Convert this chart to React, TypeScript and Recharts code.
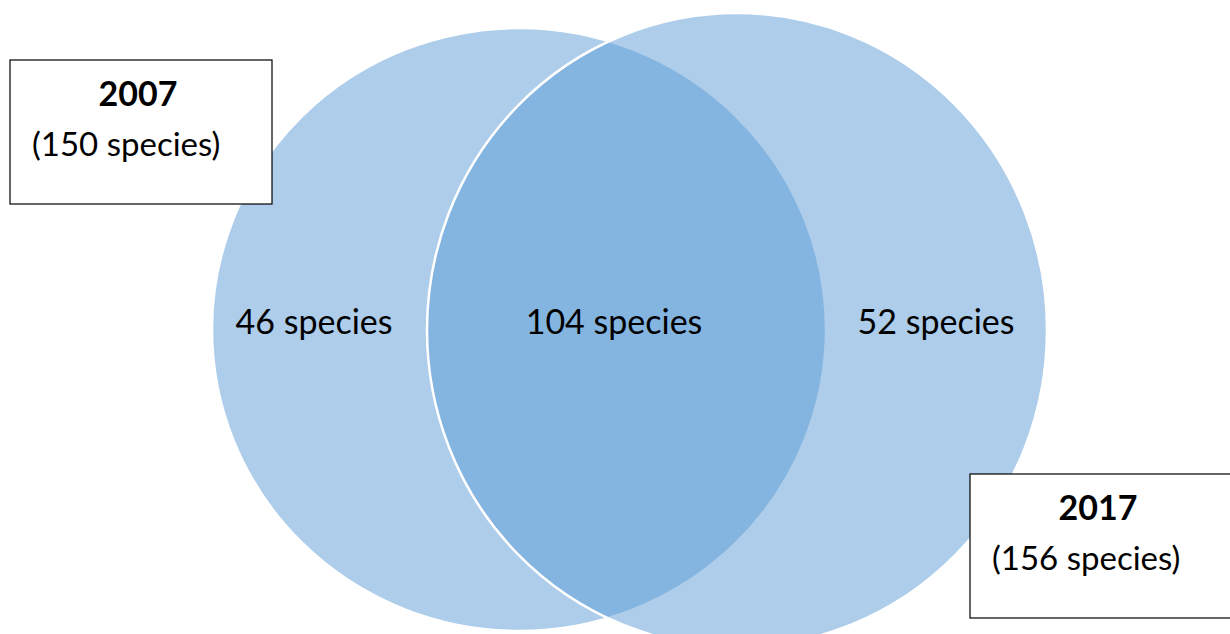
import React from 'react';
import { Scatter, ScatterChart, XAxis, YAxis } from 'recharts';

// values
const setNames = ['2007', '2017'];
const setTotals = [150, 156];
const regionCounts = [46, 104, 52];

// layout (chart units = pixels of the 1230x634 frame)
const W = 1230;
const H = 634;
const circleCx = [519, 737];
const circleCy = [329.5, 330];
const circleRx = [307, 310];
const circleRy = [301.5, 317];
const regionX = [314, 614, 936];
const regionY = 334;
const boxLeft = [10, 970];
const boxTop = [60, 474];
const boxW = 262;
const boxH = 144;

const FONT = 'Lato, "Open Sans", sans-serif';
const BLUE = '#5B9BD5';

const circles = setNames.map((name, i) => ({ x: circleCx[i], y: circleCy[i], rx: circleRx[i], ry: circleRy[i], name }));
const regions = regionCounts.map((n, i) => ({ x: regionX[i], y: regionY, label: `${n} species` }));
const boxes = setNames.map((name, i) => ({ x: boxLeft[i], y: boxTop[i], title: name, sub: `(${setTotals[i]} species)` }));

const CircleShape = (props: any) => (
    <ellipse
        cx={props.cx}
        cy={props.cy}
        rx={props.payload.rx}
        ry={props.payload.ry}
        fill={BLUE}
        fillOpacity={0.5}
        stroke="#ffffff"
        strokeWidth={2.5}
    />
);

const RegionLabel = (props: any) => (
    <text x={props.cx} y={props.cy} textAnchor="middle" fontFamily={FONT} fontSize={34} fill="#000">
        {props.payload.label}
    </text>
);

const BoxShape = (props: any) => {
    const { cx, cy, payload } = props;
    return (
        <g>
            <rect x={cx} y={cy} width={boxW} height={boxH} fill="#fff" stroke="#000" strokeWidth={1.2} />
            <text x={cx + boxW / 2 - 3} y={cy + 46} textAnchor="middle" fontFamily={FONT} fontWeight={700} fontSize={34} fill="#000">
                {payload.title}
            </text>
            <text x={cx + 22} y={cy + 96} fontFamily={FONT} fontSize={33} fill="#000">
                {payload.sub}
            </text>
        </g>
    );
};

export default function App() {
    return (
        <div style={{ position: 'absolute', left: 0, top: 0, width: W, height: H, background: '#fff' }}>
            <ScatterChart width={W} height={H} margin={{ top: 0, right: 0, bottom: 0, left: 0 }}>
                <XAxis type="number" dataKey="x" domain={[0, W]} allowDataOverflow hide />
                <YAxis type="number" dataKey="y" domain={[0, H]} reversed allowDataOverflow hide />
                <Scatter data={circles} shape={CircleShape} isAnimationActive={false} />
                <Scatter data={regions} shape={RegionLabel} isAnimationActive={false} />
                <Scatter data={boxes} shape={BoxShape} isAnimationActive={false} />
            </ScatterChart>
        </div>
    );
}
